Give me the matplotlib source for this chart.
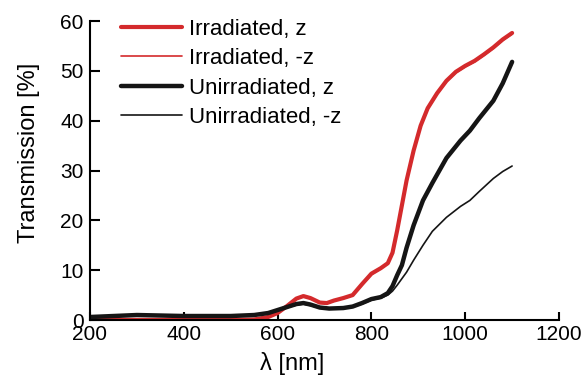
import numpy as np
import matplotlib
matplotlib.use("Agg")
import matplotlib.pyplot as plt

plt.rcParams["font.family"] = ["Liberation Sans", "DejaVu Sans"]

# ---- transmission spectra (wavelength in nm, transmission in %) ----
wl_irr = [200, 300, 400, 500, 550, 580, 600, 620, 640, 655, 670, 690, 705, 720, 740, 760,
          780, 800, 820, 835, 845, 855, 865, 875, 890, 905, 920, 940, 960, 980, 1000, 1020,
          1040, 1060, 1080, 1100]
irr_z = [0.0, 0.0, 0.0, 0.0, 0.1, 0.6, 1.4, 2.8, 4.3, 4.8, 4.4, 3.5, 3.4, 3.9, 4.4, 5.0,
         7.2, 9.3, 10.4, 11.4, 13.5, 18.0, 23.0, 28.0, 34.0, 39.0, 42.5, 45.5, 48.0, 49.8, 51.0, 52.0,
         53.3, 54.7, 56.3, 57.6]
irr_mz = [0.1, 0.1, 0.1, 0.1, 0.2, 0.7, 1.5, 2.8, 4.2, 4.7, 4.3, 3.5, 3.4, 3.8, 4.3, 4.9,
          7.0, 9.1, 10.3, 11.3, 13.4, 17.8, 22.8, 27.8, 33.8, 38.8, 42.3, 45.3, 47.8, 49.6, 50.8, 51.8,
          53.1, 54.5, 56.1, 57.4]

wl_un = [200, 250, 300, 350, 400, 450, 500, 550, 580, 600, 620, 640, 655, 670, 690, 710,
         740, 760, 780, 800, 820, 835, 845, 855, 865, 875, 890, 910, 930, 960, 990, 1010,
         1030, 1060, 1080, 1100]
unirr_z = [0.6, 0.8, 1.0, 0.9, 0.8, 0.8, 0.8, 1.0, 1.4, 2.0, 2.6, 3.2, 3.4, 3.1, 2.5, 2.3,
           2.4, 2.7, 3.4, 4.2, 4.6, 5.4, 6.8, 9.0, 11.0, 14.5, 19.0, 24.0, 27.5, 32.5, 36.0, 38.0,
           40.5, 44.0, 47.5, 51.8]
unirr_mz = [0.6, 0.7, 0.9, 0.8, 0.7, 0.7, 0.7, 0.9, 1.3, 1.9, 2.5, 3.0, 3.2, 2.9, 2.4, 2.2,
            2.3, 2.6, 3.2, 4.0, 4.4, 5.0, 5.8, 7.0, 8.3, 9.6, 12.0, 15.0, 17.8, 20.6, 22.8, 24.0,
            25.8, 28.4, 29.8, 30.9]

RED = "#d42a2c"; BLK = "#151515"

fig = plt.figure(figsize=(5.84, 3.82), dpi=100)
ax = fig.add_axes([0.1541, 0.1623, 0.8031, 0.7827])

kw = dict(solid_capstyle="round")
ax.plot(wl_irr, irr_z, color=RED, lw=3.0, label="Irradiated, z", **kw)
ax.plot(wl_irr, irr_mz, color=RED, lw=1.2, label="Irradiated, -z", **kw)
ax.plot(wl_un, unirr_z, color=BLK, lw=3.2, label="Unirradiated, z", **kw)
ax.plot(wl_un, unirr_mz, color=BLK, lw=1.2, label="Unirradiated, -z", **kw)

ax.set_xlim(200, 1200); ax.set_ylim(0, 60)
ax.set_xticks(range(200, 1201, 200)); ax.set_yticks(range(0, 61, 10))
for s in ["top", "right"]: ax.spines[s].set_visible(False)
for s in ["left", "bottom"]: ax.spines[s].set_linewidth(1.5)
ax.tick_params(axis="both", direction="in", width=1.5, labelsize=15)
ax.tick_params(axis="y", length=7, pad=4.5)
ax.tick_params(axis="x", length=6, pad=3.5)

ax.set_xlabel("λ [nm]", fontsize=17)
ax.set_ylabel("Transmission [%]", fontsize=17)
ax.xaxis.set_label_coords(0.43, -0.108)
ax.yaxis.set_label_coords(-0.107, 0.56)

ax.legend(loc="upper left", bbox_to_anchor=(0.066, 1.008), frameon=False, fontsize=16,
          borderpad=0, borderaxespad=0, handlelength=2.75, handletextpad=0.3, labelspacing=0.38)

fig.savefig("out.png", dpi=100)
